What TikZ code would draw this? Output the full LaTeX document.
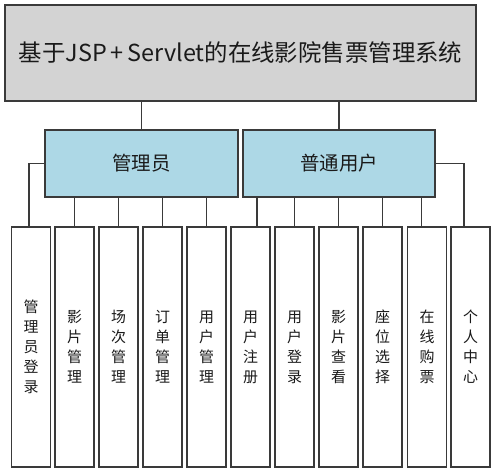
\documentclass[tikz,border=0pt]{standalone}
\usepackage{fontspec}
\setmainfont{Noto Sans CJK SC}
\definecolor{topgray}{HTML}{D3D3D3}
\definecolor{midblue}{HTML}{ADD8E6}
\definecolor{edge}{HTML}{3A3A3A}
\definecolor{ink}{HTML}{1A1A1A}
\tikzset{
  box/.style={draw=edge, line width=1.2bp, inner sep=0pt, outer sep=0pt, text=ink},
  topbox/.style={box, fill=topgray, minimum width=471bp, minimum height=96bp, font=\fontsize{23.5}{28}\selectfont},
  midbox/.style={box, fill=midblue, minimum width=193bp, minimum height=67bp, font=\fontsize{19.5}{23}\selectfont},
  leaf/.style={box, fill=white, minimum width=39bp, minimum height=240bp, align=center, font=\fontsize{15}{20}\selectfont},
  link/.style={draw=edge, line width=1.1bp}
}
\begin{document}
\begin{tikzpicture}[x=1bp,y=-1bp]
\useasboundingbox (0,0) rectangle (496,473);
\node[topbox] (top) at (240.5,53) {基于JSP\,+\,Servlet的在线影院售票管理系统};
\node[midbox] (admin) at (141.5,163.5) {管理员};
\node[midbox, minimum width=192bp] (user) at (339,163.5) {普通用户};
\node[leaf] (l1) at (31,347) {管\\理\\员\\登\\录};
\node[leaf] (l2) at (74.5,347) {影\\片\\管\\理};
\node[leaf] (l3) at (118.5,347) {场\\次\\管\\理};
\node[leaf] (l4) at (162.5,347) {订\\单\\管\\理};
\node[leaf] (l5) at (206.5,347) {用\\户\\管\\理};
\node[leaf] (l6) at (250.5,347) {用\\户\\注\\册};
\node[leaf] (l7) at (294.5,347) {用\\户\\登\\录};
\node[leaf] (l8) at (338.5,347) {影\\片\\查\\看};
\node[leaf] (l9) at (382.5,347) {座\\位\\选\\择};
\node[leaf] (l10) at (427,347) {在\\线\\购\\票};
\node[leaf] (l11) at (470.5,347) {个\\人\\中\\心};
% top to middle
\draw[link] (top.south -| admin.north) -- (admin.north);
\draw[link] (top.south -| user.north) -- (user.north);
% admin branch
\coordinate (c1) at ([xshift=-2bp]l1.north);
\draw[link] (admin.west) -| (c1);
\foreach \n in {l2,l3,l4,l5} \draw[link] (admin.south -| \n.north) -- (\n.north);
% user branch
\coordinate (c6) at ([xshift=6.5bp]l6.north);
\coordinate (c10) at ([xshift=-5.5bp]l10.north);
\coordinate (c11) at ([xshift=-6.5bp]l11.north);
\draw[link] (user.south -| c6) -- (c6);
\foreach \n in {l7,l8,l9} \draw[link] (user.south -| \n.north) -- (\n.north);
\draw[link] (user.south -| c10) -- (c10);
\draw[link] (user.east) -| (c11);
\end{tikzpicture}
\end{document}
